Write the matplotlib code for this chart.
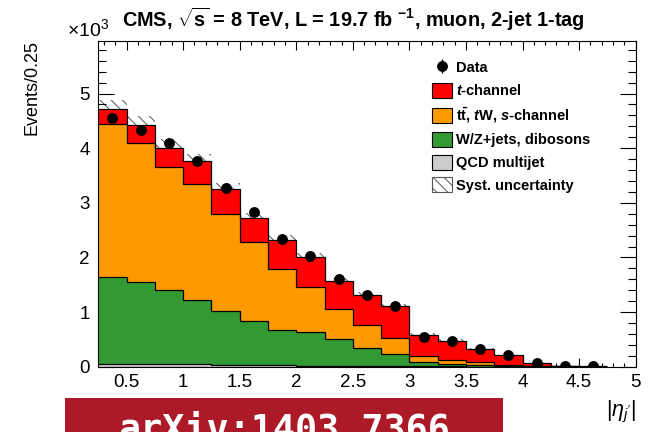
import numpy as np
import matplotlib
matplotlib.use("Agg")
import matplotlib.pyplot as plt
from matplotlib.patches import Patch, Rectangle
from matplotlib.ticker import MultipleLocator

plt.rcParams['font.family'] = ['Liberation Sans', 'DejaVu Sans']
plt.rcParams['mathtext.fontset'] = 'custom'
plt.rcParams['mathtext.rm'] = 'Liberation Sans'
plt.rcParams['mathtext.it'] = 'Liberation Sans:italic'
plt.rcParams['mathtext.bf'] = 'Liberation Sans:bold'
plt.rcParams['mathtext.bfit'] = 'Liberation Sans:italic:bold'
plt.rcParams['hatch.linewidth'] = 0.7

# |eta_j'| binning (width 0.25), yields in units of 10^3 events
bin_edges = [0.25, 0.5, 0.75, 1.0, 1.25, 1.5, 1.75, 2.0, 2.25, 2.5,
             2.75, 3.0, 3.25, 3.5, 3.75, 4.0, 4.25, 4.5, 4.75]

qcd = [0.05, 0.05, 0.05, 0.05, 0.04, 0.03, 0.03, 0.02, 0.02,
       0.01, 0.01, 0.005, 0.005, 0.003, 0.002, 0.001, 0.0, 0.0]
wzjets = [1.59, 1.50, 1.35, 1.17, 0.98, 0.81, 0.64, 0.61, 0.49,
          0.34, 0.23, 0.085, 0.045, 0.027, 0.018, 0.009, 0.005, 0.0]
top_bkg = [2.80, 2.55, 2.26, 2.13, 1.78, 1.44, 1.12, 0.83, 0.54,
           0.41, 0.28, 0.11, 0.07, 0.05, 0.02, 0.01, 0.005, 0.0]
tchannel = [0.28, 0.32, 0.35, 0.41, 0.45, 0.44, 0.53, 0.54, 0.52,
            0.55, 0.59, 0.39, 0.36, 0.24, 0.17, 0.05, 0.01, 0.005]
syst_unc = [0.17, 0.16, 0.15, 0.14, 0.12, 0.10, 0.09, 0.08, 0.06,
            0.05, 0.045, 0.025, 0.02, 0.015, 0.01, 0.005, 0.002, 0.001]

data = [4.56, 4.34, 4.10, 3.76, 3.27, 2.84, 2.33, 2.03, 1.60,
        1.32, 1.12, 0.54, 0.48, 0.32, 0.21, 0.06, 0.02, 0.008]
data_err = [0.068, 0.066, 0.064, 0.061, 0.057, 0.053, 0.048, 0.045, 0.040,
            0.036, 0.033, 0.023, 0.022, 0.018, 0.015, 0.008, 0.005, 0.003]

col_t = '#ff0000'
col_top = '#ff9900'
col_wz = '#339933'
col_qcd = '#cccccc'

fig = plt.figure(figsize=(6.64, 4.32), dpi=100)
ax = fig.add_axes([0.148, 0.151, 0.8093, 0.754])

edges = np.array(bin_edges)
s_qcd = np.array(qcd)
s_wz = s_qcd + np.array(wzjets)
s_top = s_wz + np.array(top_bkg)
s_all = s_top + np.array(tchannel)
unc = np.array(syst_unc)

# systematic band (sits behind the stack so only the part above shows)
ax.stairs(s_all + unc, edges, baseline=s_all - unc, fill=True,
          facecolor='white', edgecolor='#555555', hatch='\\\\\\',
          linewidth=0, zorder=1)

for vals, col in [(s_all, col_t), (s_top, col_top), (s_wz, col_wz), (s_qcd, col_qcd)]:
    ax.stairs(vals, edges, baseline=0, fill=True, facecolor=col,
              edgecolor='none', zorder=2)
    ax.stairs(vals, edges, baseline=None, color='black', linewidth=0.9, zorder=3)

centers = 0.5 * (edges[:-1] + edges[1:])
eb = ax.errorbar(centers, data, yerr=data_err, fmt='o', color='black',
                 markersize=6.8, elinewidth=1.0, capsize=0, zorder=5)

ax.set_xlim(0.25, 5.0)
ax.set_ylim(0, 5.96)
ax.xaxis.set_minor_locator(MultipleLocator(0.1))
ax.yaxis.set_minor_locator(MultipleLocator(0.2))
ax.set_xticks([0.5, 1, 1.5, 2, 2.5, 3, 3.5, 4, 4.5, 5])
ax.set_xticklabels(['0.5', '1', '1.5', '2', '2.5', '3', '3.5', '4', '4.5', '5'])
ax.set_yticks([0, 1, 2, 3, 4, 5])
ax.set_yticklabels(['0', '1', '2', '3', '4', '5'])
ax.tick_params(axis='both', which='both', direction='in', top=True, right=True,
               labelsize=13.5, width=0.8)
ax.tick_params(axis='x', which='major', length=6.5, pad=5)
ax.tick_params(axis='x', which='minor', length=3.2)
ax.tick_params(axis='y', which='major', length=11.5, pad=6)
ax.tick_params(axis='y', which='minor', length=5.8)
for sp in ax.spines.values():
    sp.set_linewidth(0.8)

# axis titles
fig.text(32 / 664, 1 - 40 / 432, 'Events/0.25', rotation=90, ha='center',
         va='top', fontsize=13)
fig.text(637 / 664, 1 - 416 / 432, r"$|\eta_{j'}|$", ha='right',
         va='baseline', fontsize=15.5)
fig.text(67 / 664, 1 - 36 / 432, r'$\times$10$^{3}$', ha='left',
         va='baseline', fontsize=14)
fig.text(122 / 664, 1 - 27 / 432,
         r'CMS, $\mathbf{\sqrt{s}}$ = 8 TeV, L = 19.7 fb $^{\mathbf{-1}}$, muon, 2-jet 1-tag',
         ha='left', va='baseline', fontsize=14.3, fontweight='bold')

handles = [eb,
           Patch(facecolor=col_t, edgecolor='black', linewidth=0.8),
           Patch(facecolor=col_top, edgecolor='black', linewidth=0.8),
           Patch(facecolor=col_wz, edgecolor='black', linewidth=0.8),
           Patch(facecolor=col_qcd, edgecolor='black', linewidth=0.8),
           Patch(facecolor='white', edgecolor='#555555', hatch='\\\\\\', linewidth=0.8)]
labels = ['Data',
          r'$\mathbfit{t}$-channel',
          r't$\mathbf{\bar{t}}$, $\mathbfit{t}$W, $\mathbfit{s}$-channel',
          'W/Z+jets, dibosons',
          'QCD multijet',
          'Syst. uncertainty']
leg = ax.legend(handles, labels, loc='upper left',
                bbox_to_anchor=(432 / 664, 1 - 60 / 432),
                bbox_transform=fig.transFigure, frameon=False,
                prop={'weight': 'bold', 'size': 10.5},
                handlelength=1.37, handleheight=1.2, labelspacing=0.5,
                handletextpad=0.3, borderpad=0, borderaxespad=0)

# arXiv identifier banner along the bottom edge
fig.patches.append(Rectangle((65 / 664, 0), (503 - 65) / 664, (432 - 398) / 432,
                             transform=fig.transFigure, facecolor='#ad1a27',
                             edgecolor='none', zorder=0))
fig.text(284 / 664, 1 - 440 / 432, 'arXiv:1403.7366', ha='center', va='baseline',
         fontsize=26.5, fontweight='bold', color='white',
         family='DejaVu Sans Mono')

fig.savefig('out.png', dpi=100)
